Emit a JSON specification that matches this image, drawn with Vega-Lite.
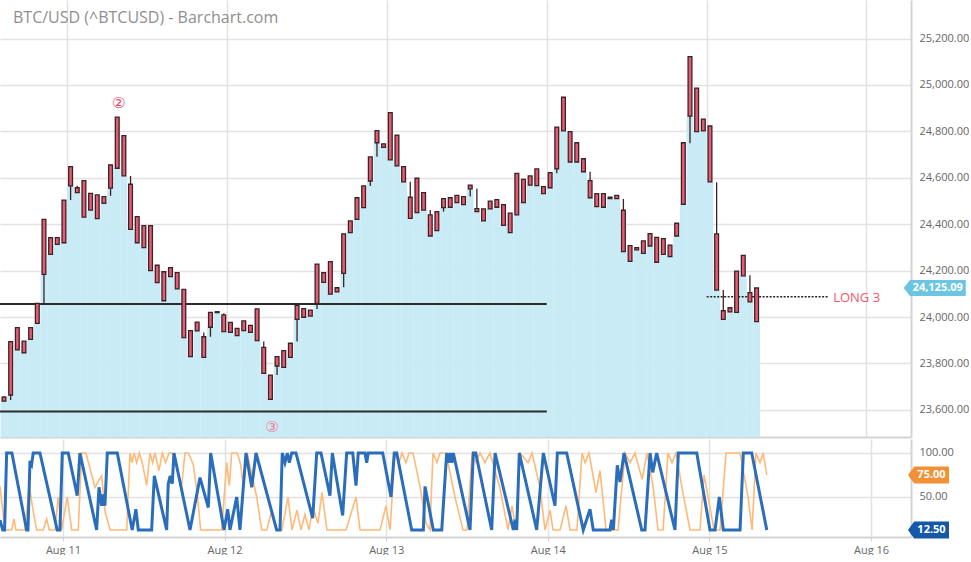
{
  "$schema": "https://vega.github.io/schema/vega-lite/v6.json",
  "padding": 0,
  "autosize": {"type": "pad"},
  "background": "white",
  "spacing": 2,
  "config": {
    "view": {"stroke": null},
    "font": "Open Sans",
    "axis": {"labelFont": "Open Sans", "labelColor": "#666666", "labelFontSize": 11, "gridColor": "#e2e2e2", "gridWidth": 1.5, "domainColor": "#d4d4d4", "domainWidth": 2, "tickColor": "#d4d4d4", "title": null}
  },
  "resolve": {"scale": {"x": "independent", "y": "independent"}},
  "datasets": {
    "candles": [
      {"t": "2022-08-10 14:30", "top": 23655, "bot": 23638, "hi": 23660, "lo": 23636},
      {"t": "2022-08-10 15:30", "top": 23894, "bot": 23664, "hi": 23894, "lo": 23642},
      {"t": "2022-08-10 16:30", "top": 23954, "bot": 23858, "hi": 23954, "lo": 23858},
      {"t": "2022-08-10 17:30", "top": 23896, "bot": 23846, "hi": 23896, "lo": 23846},
      {"t": "2022-08-10 18:30", "top": 23954, "bot": 23904, "hi": 23954, "lo": 23904},
      {"t": "2022-08-10 19:30", "top": 24059, "bot": 23973, "hi": 24059, "lo": 23973},
      {"t": "2022-08-10 20:30", "top": 24421, "bot": 24184, "hi": 24421, "lo": 24059},
      {"t": "2022-08-10 21:30", "top": 24342, "bot": 24270, "hi": 24342, "lo": 24270},
      {"t": "2022-08-10 22:30", "top": 24342, "bot": 24313, "hi": 24342, "lo": 24313},
      {"t": "2022-08-10 23:30", "top": 24504, "bot": 24320, "hi": 24504, "lo": 24320},
      {"t": "2022-08-11 00:30", "top": 24648, "bot": 24565, "hi": 24648, "lo": 24504},
      {"t": "2022-08-11 01:30", "top": 24557, "bot": 24536, "hi": 24566, "lo": 24536},
      {"t": "2022-08-11 02:30", "top": 24588, "bot": 24430, "hi": 24588, "lo": 24430},
      {"t": "2022-08-11 03:30", "top": 24533, "bot": 24461, "hi": 24533, "lo": 24461},
      {"t": "2022-08-11 04:30", "top": 24526, "bot": 24424, "hi": 24526, "lo": 24424},
      {"t": "2022-08-11 05:30", "top": 24519, "bot": 24490, "hi": 24519, "lo": 24490},
      {"t": "2022-08-11 06:30", "top": 24655, "bot": 24555, "hi": 24655, "lo": 24522},
      {"t": "2022-08-11 07:30", "top": 24861, "bot": 24641, "hi": 24861, "lo": 24641},
      {"t": "2022-08-11 08:30", "top": 24782, "bot": 24608, "hi": 24782, "lo": 24608},
      {"t": "2022-08-11 09:30", "top": 24572, "bot": 24378, "hi": 24608, "lo": 24378},
      {"t": "2022-08-11 10:30", "top": 24433, "bot": 24320, "hi": 24433, "lo": 24320},
      {"t": "2022-08-11 11:30", "top": 24394, "bot": 24299, "hi": 24394, "lo": 24299},
      {"t": "2022-08-11 12:30", "top": 24394, "bot": 24200, "hi": 24394, "lo": 24200},
      {"t": "2022-08-11 13:30", "top": 24223, "bot": 24148, "hi": 24223, "lo": 24148},
      {"t": "2022-08-11 14:30", "top": 24195, "bot": 24070, "hi": 24195, "lo": 24070},
      {"t": "2022-08-11 15:30", "top": 24213, "bot": 24174, "hi": 24213, "lo": 24174},
      {"t": "2022-08-11 16:30", "top": 24191, "bot": 24121, "hi": 24191, "lo": 24121},
      {"t": "2022-08-11 17:30", "top": 24119, "bot": 23911, "hi": 24119, "lo": 23911},
      {"t": "2022-08-11 18:30", "top": 23941, "bot": 23829, "hi": 23941, "lo": 23829},
      {"t": "2022-08-11 19:30", "top": 23978, "bot": 23940, "hi": 23978, "lo": 23940},
      {"t": "2022-08-11 20:30", "top": 23915, "bot": 23826, "hi": 23933, "lo": 23826},
      {"t": "2022-08-11 21:30", "top": 24020, "bot": 23956, "hi": 24020, "lo": 23915},
      {"t": "2022-08-11 22:30", "top": 24023, "bot": 24019, "hi": 24023, "lo": 24019},
      {"t": "2022-08-11 23:30", "top": 24009, "bot": 23937, "hi": 24016, "lo": 23937},
      {"t": "2022-08-12 00:30", "top": 23977, "bot": 23934, "hi": 23977, "lo": 23934},
      {"t": "2022-08-12 01:30", "top": 23951, "bot": 23920, "hi": 23951, "lo": 23920},
      {"t": "2022-08-12 02:30", "top": 23983, "bot": 23941, "hi": 23983, "lo": 23941},
      {"t": "2022-08-12 03:30", "top": 23964, "bot": 23934, "hi": 23964, "lo": 23934},
      {"t": "2022-08-12 04:30", "top": 24035, "bot": 23898, "hi": 24035, "lo": 23898},
      {"t": "2022-08-12 05:30", "top": 23869, "bot": 23757, "hi": 23894, "lo": 23757},
      {"t": "2022-08-12 06:30", "top": 23750, "bot": 23645, "hi": 23750, "lo": 23645},
      {"t": "2022-08-12 07:30", "top": 23829, "bot": 23789, "hi": 23829, "lo": 23750},
      {"t": "2022-08-12 08:30", "top": 23855, "bot": 23783, "hi": 23855, "lo": 23783},
      {"t": "2022-08-12 09:30", "top": 23887, "bot": 23826, "hi": 23887, "lo": 23826},
      {"t": "2022-08-12 10:30", "top": 24050, "bot": 23990, "hi": 24050, "lo": 23894},
      {"t": "2022-08-12 11:30", "top": 24036, "bot": 23999, "hi": 24036, "lo": 23999},
      {"t": "2022-08-12 12:30", "top": 24030, "bot": 24004, "hi": 24030, "lo": 24004},
      {"t": "2022-08-12 13:30", "top": 24228, "bot": 24059, "hi": 24228, "lo": 24035},
      {"t": "2022-08-12 14:30", "top": 24191, "bot": 24149, "hi": 24191, "lo": 24149},
      {"t": "2022-08-12 15:30", "top": 24239, "bot": 24099, "hi": 24239, "lo": 24099},
      {"t": "2022-08-12 16:30", "top": 24126, "bot": 24108, "hi": 24126, "lo": 24108},
      {"t": "2022-08-12 17:30", "top": 24358, "bot": 24188, "hi": 24358, "lo": 24128},
      {"t": "2022-08-12 18:30", "top": 24414, "bot": 24364, "hi": 24414, "lo": 24364},
      {"t": "2022-08-12 19:30", "top": 24514, "bot": 24421, "hi": 24514, "lo": 24421},
      {"t": "2022-08-12 20:30", "top": 24565, "bot": 24471, "hi": 24565, "lo": 24471},
      {"t": "2022-08-12 21:30", "top": 24690, "bot": 24586, "hi": 24690, "lo": 24565},
      {"t": "2022-08-12 22:30", "top": 24803, "bot": 24751, "hi": 24803, "lo": 24691},
      {"t": "2022-08-12 23:30", "top": 24746, "bot": 24731, "hi": 24746, "lo": 24731},
      {"t": "2022-08-13 00:30", "top": 24881, "bot": 24677, "hi": 24881, "lo": 24677},
      {"t": "2022-08-13 01:30", "top": 24784, "bot": 24651, "hi": 24784, "lo": 24651},
      {"t": "2022-08-13 02:30", "top": 24648, "bot": 24582, "hi": 24648, "lo": 24582},
      {"t": "2022-08-13 03:30", "top": 24516, "bot": 24425, "hi": 24583, "lo": 24425},
      {"t": "2022-08-13 04:30", "top": 24598, "bot": 24450, "hi": 24598, "lo": 24450},
      {"t": "2022-08-13 05:30", "top": 24536, "bot": 24461, "hi": 24536, "lo": 24461},
      {"t": "2022-08-13 06:30", "top": 24440, "bot": 24349, "hi": 24461, "lo": 24349},
      {"t": "2022-08-13 07:30", "top": 24454, "bot": 24372, "hi": 24454, "lo": 24372},
      {"t": "2022-08-13 08:30", "top": 24510, "bot": 24471, "hi": 24510, "lo": 24454},
      {"t": "2022-08-13 09:30", "top": 24514, "bot": 24473, "hi": 24514, "lo": 24473},
      {"t": "2022-08-13 10:30", "top": 24524, "bot": 24493, "hi": 24524, "lo": 24493},
      {"t": "2022-08-13 11:30", "top": 24519, "bot": 24484, "hi": 24519, "lo": 24484},
      {"t": "2022-08-13 12:30", "top": 24568, "bot": 24552, "hi": 24568, "lo": 24519},
      {"t": "2022-08-13 13:30", "top": 24467, "bot": 24454, "hi": 24553, "lo": 24454},
      {"t": "2022-08-13 14:30", "top": 24466, "bot": 24414, "hi": 24466, "lo": 24414},
      {"t": "2022-08-13 15:30", "top": 24499, "bot": 24466, "hi": 24499, "lo": 24466},
      {"t": "2022-08-13 16:30", "top": 24506, "bot": 24473, "hi": 24506, "lo": 24473},
      {"t": "2022-08-13 17:30", "top": 24484, "bot": 24395, "hi": 24484, "lo": 24395},
      {"t": "2022-08-13 18:30", "top": 24448, "bot": 24364, "hi": 24448, "lo": 24364},
      {"t": "2022-08-13 19:30", "top": 24619, "bot": 24440, "hi": 24619, "lo": 24440},
      {"t": "2022-08-13 20:30", "top": 24593, "bot": 24493, "hi": 24593, "lo": 24493},
      {"t": "2022-08-13 21:30", "top": 24608, "bot": 24568, "hi": 24608, "lo": 24568},
      {"t": "2022-08-13 22:30", "top": 24638, "bot": 24566, "hi": 24638, "lo": 24566},
      {"t": "2022-08-13 23:30", "top": 24562, "bot": 24532, "hi": 24562, "lo": 24532},
      {"t": "2022-08-14 00:30", "top": 24622, "bot": 24557, "hi": 24622, "lo": 24557},
      {"t": "2022-08-14 01:30", "top": 24818, "bot": 24638, "hi": 24818, "lo": 24619},
      {"t": "2022-08-14 02:30", "top": 24947, "bot": 24802, "hi": 24947, "lo": 24802},
      {"t": "2022-08-14 03:30", "top": 24799, "bot": 24668, "hi": 24799, "lo": 24668},
      {"t": "2022-08-14 04:30", "top": 24751, "bot": 24668, "hi": 24751, "lo": 24668},
      {"t": "2022-08-14 05:30", "top": 24682, "bot": 24626, "hi": 24682, "lo": 24626},
      {"t": "2022-08-14 06:30", "top": 24588, "bot": 24514, "hi": 24626, "lo": 24514},
      {"t": "2022-08-14 07:30", "top": 24532, "bot": 24476, "hi": 24532, "lo": 24476},
      {"t": "2022-08-14 08:30", "top": 24532, "bot": 24473, "hi": 24532, "lo": 24473},
      {"t": "2022-08-14 09:30", "top": 24516, "bot": 24510, "hi": 24516, "lo": 24510},
      {"t": "2022-08-14 10:30", "top": 24524, "bot": 24510, "hi": 24524, "lo": 24510},
      {"t": "2022-08-14 11:30", "top": 24460, "bot": 24282, "hi": 24509, "lo": 24282},
      {"t": "2022-08-14 12:30", "top": 24308, "bot": 24240, "hi": 24308, "lo": 24240},
      {"t": "2022-08-14 13:30", "top": 24299, "bot": 24289, "hi": 24299, "lo": 24289},
      {"t": "2022-08-14 14:30", "top": 24328, "bot": 24274, "hi": 24328, "lo": 24274},
      {"t": "2022-08-14 15:30", "top": 24359, "bot": 24306, "hi": 24359, "lo": 24306},
      {"t": "2022-08-14 16:30", "top": 24343, "bot": 24236, "hi": 24343, "lo": 24236},
      {"t": "2022-08-14 17:30", "top": 24338, "bot": 24270, "hi": 24338, "lo": 24270},
      {"t": "2022-08-14 18:30", "top": 24310, "bot": 24260, "hi": 24310, "lo": 24260},
      {"t": "2022-08-14 19:30", "top": 24404, "bot": 24349, "hi": 24404, "lo": 24349},
      {"t": "2022-08-14 20:30", "top": 24751, "bot": 24486, "hi": 24751, "lo": 24486},
      {"t": "2022-08-14 21:30", "top": 25122, "bot": 24866, "hi": 25122, "lo": 24749},
      {"t": "2022-08-14 22:30", "top": 24986, "bot": 24799, "hi": 24986, "lo": 24799},
      {"t": "2022-08-14 23:30", "top": 24853, "bot": 24802, "hi": 24853, "lo": 24802},
      {"t": "2022-08-15 00:30", "top": 24823, "bot": 24582, "hi": 24823, "lo": 24582},
      {"t": "2022-08-15 01:30", "top": 24358, "bot": 24116, "hi": 24580, "lo": 24116},
      {"t": "2022-08-15 02:30", "top": 24027, "bot": 23990, "hi": 24116, "lo": 23990},
      {"t": "2022-08-15 03:30", "top": 24040, "bot": 24022, "hi": 24040, "lo": 24022},
      {"t": "2022-08-15 04:30", "top": 24198, "bot": 24020, "hi": 24198, "lo": 24020},
      {"t": "2022-08-15 05:30", "top": 24266, "bot": 24177, "hi": 24266, "lo": 24177},
      {"t": "2022-08-15 06:30", "top": 24105, "bot": 24065, "hi": 24180, "lo": 24065},
      {"t": "2022-08-15 07:30", "top": 24125.09, "bot": 23980, "hi": 24125.09, "lo": 23980}
    ],
    "levels": [
      {"from": "2022-08-10 12:00", "to": "2022-08-14 00:00", "price": 24056},
      {"from": "2022-08-10 12:00", "to": "2022-08-14 00:00", "price": 23593}
    ],
    "signal": [
      {"from": "2022-08-15 00:00", "to": "2022-08-15 18:15", "price": 24087, "label": "LONG 3"}
    ],
    "marks": [
      {"t": "2022-08-11 07:43", "price": 24921, "label": "②", "kind": "peak"},
      {"t": "2022-08-12 06:45", "price": 23525, "label": "③", "kind": "trough"}
    ],
    "last": [{"price": 24125.09, "label": "24,125.09"}],
    "oscLast": [{"v": 75, "label": "75.00", "series": "orange"}, {"v": 12.5, "label": "12.50", "series": "blue"}],
    "blue": [
      {"t": "2022-08-10 14:39", "v": 23.8}, {"t": "2022-08-10 15:03", "v": 12.5}, {"t": "2022-08-10 15:20", "v": 12.5},
      {"t": "2022-08-10 15:38", "v": 100}, {"t": "2022-08-10 16:25", "v": 100}, {"t": "2022-08-10 18:36", "v": 12.5},
      {"t": "2022-08-10 18:48", "v": 12.5}, {"t": "2022-08-10 19:06", "v": 91}, {"t": "2022-08-10 19:21", "v": 87},
      {"t": "2022-08-10 19:35", "v": 100}, {"t": "2022-08-10 20:35", "v": 100}, {"t": "2022-08-10 23:09", "v": 12.5},
      {"t": "2022-08-10 23:33", "v": 12.5}, {"t": "2022-08-10 23:54", "v": 100}, {"t": "2022-08-11 00:47", "v": 100},
      {"t": "2022-08-11 02:07", "v": 51.5}, {"t": "2022-08-11 02:31", "v": 100}, {"t": "2022-08-11 05:00", "v": 12.5},
      {"t": "2022-08-11 05:21", "v": 61}, {"t": "2022-08-11 05:45", "v": 40}, {"t": "2022-08-11 05:59", "v": 53},
      {"t": "2022-08-11 06:14", "v": 40}, {"t": "2022-08-11 06:35", "v": 100}, {"t": "2022-08-11 08:04", "v": 100},
      {"t": "2022-08-11 10:17", "v": 12.5}, {"t": "2022-08-11 10:50", "v": 36}, {"t": "2022-08-11 11:11", "v": 12.5},
      {"t": "2022-08-11 13:10", "v": 12.5}, {"t": "2022-08-11 13:34", "v": 74}, {"t": "2022-08-11 15:24", "v": 12.5},
      {"t": "2022-08-11 15:38", "v": 65}, {"t": "2022-08-11 15:56", "v": 74}, {"t": "2022-08-11 16:14", "v": 65},
      {"t": "2022-08-11 16:29", "v": 100}, {"t": "2022-08-11 18:52", "v": 12.5}, {"t": "2022-08-11 20:21", "v": 72},
      {"t": "2022-08-11 21:35", "v": 38}, {"t": "2022-08-11 21:56", "v": 100}, {"t": "2022-08-11 23:55", "v": 12.5},
      {"t": "2022-08-12 00:28", "v": 36}, {"t": "2022-08-12 00:48", "v": 12.5}, {"t": "2022-08-12 01:48", "v": 50},
      {"t": "2022-08-12 02:17", "v": 12.5}, {"t": "2022-08-12 03:11", "v": 100}, {"t": "2022-08-12 04:02", "v": 61},
      {"t": "2022-08-12 04:40", "v": 100}, {"t": "2022-08-12 07:44", "v": 12.5}, {"t": "2022-08-12 08:14", "v": 12.5},
      {"t": "2022-08-12 08:34", "v": 100}, {"t": "2022-08-12 08:58", "v": 89}, {"t": "2022-08-12 09:19", "v": 100},
      {"t": "2022-08-12 09:37", "v": 89}, {"t": "2022-08-12 09:58", "v": 100}, {"t": "2022-08-12 10:36", "v": 100},
      {"t": "2022-08-12 13:05", "v": 26}, {"t": "2022-08-12 13:41", "v": 100}, {"t": "2022-08-12 14:19", "v": 100},
      {"t": "2022-08-12 15:39", "v": 51.5}, {"t": "2022-08-12 16:00", "v": 100}, {"t": "2022-08-12 17:32", "v": 29},
      {"t": "2022-08-12 18:08", "v": 100}, {"t": "2022-08-12 19:02", "v": 100}, {"t": "2022-08-12 19:31", "v": 63},
      {"t": "2022-08-12 19:51", "v": 100}, {"t": "2022-08-12 20:51", "v": 100}, {"t": "2022-08-12 21:06", "v": 89},
      {"t": "2022-08-12 21:20", "v": 100}, {"t": "2022-08-12 23:29", "v": 100}, {"t": "2022-08-13 00:43", "v": 50},
      {"t": "2022-08-13 01:12", "v": 100}, {"t": "2022-08-13 01:34", "v": 100}, {"t": "2022-08-13 03:47", "v": 12.5},
      {"t": "2022-08-13 05:31", "v": 12.5}, {"t": "2022-08-13 05:46", "v": 62}, {"t": "2022-08-13 07:00", "v": 12.5},
      {"t": "2022-08-13 08:15", "v": 12.5}, {"t": "2022-08-13 08:59", "v": 100}, {"t": "2022-08-13 09:13", "v": 89},
      {"t": "2022-08-13 09:29", "v": 100}, {"t": "2022-08-13 09:44", "v": 89}, {"t": "2022-08-13 09:58", "v": 100},
      {"t": "2022-08-13 12:27", "v": 12.5}, {"t": "2022-08-13 12:56", "v": 100}, {"t": "2022-08-13 13:18", "v": 100},
      {"t": "2022-08-13 15:40", "v": 12.5}, {"t": "2022-08-13 16:10", "v": 100}, {"t": "2022-08-13 18:53", "v": 12.5},
      {"t": "2022-08-13 19:08", "v": 24}, {"t": "2022-08-13 19:23", "v": 12.5}, {"t": "2022-08-13 19:46", "v": 100},
      {"t": "2022-08-13 22:21", "v": 12.5}, {"t": "2022-08-13 23:20", "v": 100}, {"t": "2022-08-14 01:04", "v": 40},
      {"t": "2022-08-14 01:25", "v": 100}, {"t": "2022-08-14 02:48", "v": 100}, {"t": "2022-08-14 05:16", "v": 12.5},
      {"t": "2022-08-14 06:16", "v": 36}, {"t": "2022-08-14 06:45", "v": 12.5}, {"t": "2022-08-14 09:14", "v": 12.5},
      {"t": "2022-08-14 09:29", "v": 24}, {"t": "2022-08-14 09:44", "v": 12.5}, {"t": "2022-08-14 10:19", "v": 86},
      {"t": "2022-08-14 10:43", "v": 67}, {"t": "2022-08-14 11:19", "v": 100}, {"t": "2022-08-14 13:57", "v": 12.5},
      {"t": "2022-08-14 14:26", "v": 12.5}, {"t": "2022-08-14 15:11", "v": 100}, {"t": "2022-08-14 15:35", "v": 78},
      {"t": "2022-08-14 16:10", "v": 100}, {"t": "2022-08-14 18:53", "v": 12.5}, {"t": "2022-08-14 19:23", "v": 100},
      {"t": "2022-08-14 22:07", "v": 100}, {"t": "2022-08-15 00:05", "v": 12.5}, {"t": "2022-08-15 00:50", "v": 12.5},
      {"t": "2022-08-15 01:28", "v": 50}, {"t": "2022-08-15 02:04", "v": 12.5}, {"t": "2022-08-15 04:33", "v": 12.5},
      {"t": "2022-08-15 05:02", "v": 100}, {"t": "2022-08-15 06:17", "v": 100}, {"t": "2022-08-15 08:31", "v": 12.5}
    ],
    "orange": [
      {"t": "2022-08-10 14:39", "v": 62}, {"t": "2022-08-10 15:23", "v": 12.5}, {"t": "2022-08-10 16:23", "v": 12.5},
      {"t": "2022-08-10 16:43", "v": 25}, {"t": "2022-08-10 17:01", "v": 12.5}, {"t": "2022-08-10 18:21", "v": 12.5},
      {"t": "2022-08-10 19:00", "v": 62}, {"t": "2022-08-10 19:35", "v": 34}, {"t": "2022-08-10 20:06", "v": 12.5},
      {"t": "2022-08-10 21:04", "v": 12.5}, {"t": "2022-08-10 21:35", "v": 25}, {"t": "2022-08-10 21:58", "v": 12.5},
      {"t": "2022-08-10 22:49", "v": 12.5}, {"t": "2022-08-10 23:18", "v": 50}, {"t": "2022-08-10 23:48", "v": 12.5},
      {"t": "2022-08-11 00:38", "v": 50}, {"t": "2022-08-11 01:18", "v": 12.5}, {"t": "2022-08-11 02:16", "v": 12.5},
      {"t": "2022-08-11 02:47", "v": 100}, {"t": "2022-08-11 03:25", "v": 100}, {"t": "2022-08-11 04:45", "v": 61},
      {"t": "2022-08-11 05:15", "v": 68}, {"t": "2022-08-11 05:45", "v": 74}, {"t": "2022-08-11 06:14", "v": 34},
      {"t": "2022-08-11 06:59", "v": 12.5}, {"t": "2022-08-11 09:28", "v": 12.5}, {"t": "2022-08-11 09:57", "v": 100},
      {"t": "2022-08-11 10:15", "v": 89}, {"t": "2022-08-11 10:33", "v": 100}, {"t": "2022-08-11 10:57", "v": 89},
      {"t": "2022-08-11 11:20", "v": 100}, {"t": "2022-08-11 11:50", "v": 87}, {"t": "2022-08-11 12:26", "v": 63},
      {"t": "2022-08-11 12:55", "v": 100}, {"t": "2022-08-11 13:19", "v": 89}, {"t": "2022-08-11 13:40", "v": 100},
      {"t": "2022-08-11 14:15", "v": 80}, {"t": "2022-08-11 14:45", "v": 100}, {"t": "2022-08-11 15:15", "v": 89},
      {"t": "2022-08-11 15:45", "v": 100}, {"t": "2022-08-11 16:14", "v": 100}, {"t": "2022-08-11 16:58", "v": 80},
      {"t": "2022-08-11 17:38", "v": 63}, {"t": "2022-08-11 18:07", "v": 100}, {"t": "2022-08-11 18:37", "v": 100},
      {"t": "2022-08-11 19:21", "v": 87}, {"t": "2022-08-11 19:57", "v": 53}, {"t": "2022-08-11 20:27", "v": 12.5},
      {"t": "2022-08-11 23:34", "v": 12.5}, {"t": "2022-08-12 00:19", "v": 89}, {"t": "2022-08-12 00:42", "v": 63},
      {"t": "2022-08-12 01:03", "v": 100}, {"t": "2022-08-12 01:53", "v": 100}, {"t": "2022-08-12 02:23", "v": 87},
      {"t": "2022-08-12 02:47", "v": 62}, {"t": "2022-08-12 03:22", "v": 100}, {"t": "2022-08-12 04:46", "v": 50},
      {"t": "2022-08-12 05:31", "v": 12.5}, {"t": "2022-08-12 06:15", "v": 12.5}, {"t": "2022-08-12 07:00", "v": 34},
      {"t": "2022-08-12 07:38", "v": 12.5}, {"t": "2022-08-12 08:31", "v": 12.5}, {"t": "2022-08-12 09:25", "v": 50},
      {"t": "2022-08-12 10:01", "v": 12.5}, {"t": "2022-08-12 10:45", "v": 35}, {"t": "2022-08-12 11:21", "v": 12.5},
      {"t": "2022-08-12 11:56", "v": 30}, {"t": "2022-08-12 12:32", "v": 12.5}, {"t": "2022-08-12 13:08", "v": 38},
      {"t": "2022-08-12 13:52", "v": 20}, {"t": "2022-08-12 14:28", "v": 55}, {"t": "2022-08-12 15:12", "v": 12.5},
      {"t": "2022-08-12 18:02", "v": 12.5}, {"t": "2022-08-12 19:31", "v": 50}, {"t": "2022-08-12 20:07", "v": 12.5},
      {"t": "2022-08-12 23:05", "v": 12.5}, {"t": "2022-08-12 23:58", "v": 40}, {"t": "2022-08-13 00:34", "v": 12.5},
      {"t": "2022-08-13 01:18", "v": 100}, {"t": "2022-08-13 01:54", "v": 89}, {"t": "2022-08-13 02:21", "v": 100},
      {"t": "2022-08-13 02:56", "v": 89}, {"t": "2022-08-13 03:23", "v": 100}, {"t": "2022-08-13 03:59", "v": 100},
      {"t": "2022-08-13 05:01", "v": 62}, {"t": "2022-08-13 05:55", "v": 20}, {"t": "2022-08-13 06:30", "v": 12.5},
      {"t": "2022-08-13 06:57", "v": 100}, {"t": "2022-08-13 07:33", "v": 89}, {"t": "2022-08-13 07:59", "v": 100},
      {"t": "2022-08-13 08:53", "v": 100}, {"t": "2022-08-13 10:13", "v": 50}, {"t": "2022-08-13 11:24", "v": 12.5},
      {"t": "2022-08-13 12:00", "v": 12.5}, {"t": "2022-08-13 12:45", "v": 100}, {"t": "2022-08-13 13:20", "v": 89},
      {"t": "2022-08-13 13:56", "v": 100}, {"t": "2022-08-13 14:40", "v": 89}, {"t": "2022-08-13 15:25", "v": 100},
      {"t": "2022-08-13 16:54", "v": 60}, {"t": "2022-08-13 18:05", "v": 12.5}, {"t": "2022-08-13 18:41", "v": 40},
      {"t": "2022-08-13 19:17", "v": 12.5}, {"t": "2022-08-13 19:52", "v": 100}, {"t": "2022-08-13 21:04", "v": 89},
      {"t": "2022-08-13 21:39", "v": 100}, {"t": "2022-08-13 22:51", "v": 60}, {"t": "2022-08-13 23:35", "v": 12.5},
      {"t": "2022-08-14 00:20", "v": 35}, {"t": "2022-08-14 00:46", "v": 12.5}, {"t": "2022-08-14 01:49", "v": 12.5},
      {"t": "2022-08-14 02:42", "v": 40}, {"t": "2022-08-14 03:18", "v": 12.5}, {"t": "2022-08-14 04:20", "v": 12.5},
      {"t": "2022-08-14 05:05", "v": 100}, {"t": "2022-08-14 05:32", "v": 89}, {"t": "2022-08-14 06:07", "v": 100},
      {"t": "2022-08-14 07:10", "v": 55}, {"t": "2022-08-14 07:45", "v": 80}, {"t": "2022-08-14 08:39", "v": 12.5},
      {"t": "2022-08-14 10:26", "v": 12.5}, {"t": "2022-08-14 11:28", "v": 100}, {"t": "2022-08-14 12:13", "v": 89},
      {"t": "2022-08-14 12:57", "v": 100}, {"t": "2022-08-14 14:00", "v": 70}, {"t": "2022-08-14 14:44", "v": 100},
      {"t": "2022-08-14 15:38", "v": 62}, {"t": "2022-08-14 16:22", "v": 12.5}, {"t": "2022-08-14 17:07", "v": 12.5},
      {"t": "2022-08-14 17:51", "v": 100}, {"t": "2022-08-14 18:27", "v": 89}, {"t": "2022-08-14 19:03", "v": 100},
      {"t": "2022-08-14 19:56", "v": 60}, {"t": "2022-08-14 21:07", "v": 12.5}, {"t": "2022-08-14 22:36", "v": 12.5},
      {"t": "2022-08-14 23:12", "v": 75}, {"t": "2022-08-14 23:48", "v": 50}, {"t": "2022-08-15 00:41", "v": 12.5},
      {"t": "2022-08-15 01:35", "v": 12.5}, {"t": "2022-08-15 02:28", "v": 100}, {"t": "2022-08-15 04:33", "v": 100},
      {"t": "2022-08-15 05:44", "v": 50}, {"t": "2022-08-15 06:20", "v": 12.5}, {"t": "2022-08-15 06:55", "v": 100},
      {"t": "2022-08-15 07:31", "v": 89}, {"t": "2022-08-15 07:58", "v": 100}, {"t": "2022-08-15 08:31", "v": 75}
    ]
  },
  "vconcat": [
    {
      "width": 911,
      "height": 437,
      "title": {"text": "BTC/USD (^BTCUSD) - Barchart.com", "anchor": "start", "frame": "group", "orient": "top", "offset": -26, "dx": 13, "font": "Open Sans", "fontSize": 16, "fontWeight": "normal", "color": "#8f8f8f"},
      "layer": [
        {
          "data": {"name": "candles"},
          "mark": {"type": "bar", "width": 6.9, "color": "#c8ebf6", "clip": true},
          "encoding": {
            "x": {"field": "t", "type": "temporal",
                  "scale": {"domain": [{"year": 2022, "month": 8, "date": 10, "hours": 14, "minutes": 39}, {"year": 2022, "month": 8, "date": 16, "hours": 5, "minutes": 56}], "nice": false},
                  "axis": {"labels": false, "ticks": false, "grid": true, "domain": true, "tickCount": {"interval": "day", "step": 1}}},
            "y": {"field": "bot", "type": "quantitative",
                  "scale": {"domain": [23483, 25366], "nice": false, "zero": false},
                  "axis": {"orient": "right", "values": [23600, 23800, 24000, 24200, 24400, 24600, 24800, 25000, 25200], "format": ",.2f", "ticks": false, "labelPadding": 8, "grid": true}},
            "y2": {"datum": 23483}
          }
        },
        {
          "data": {"name": "levels"},
          "mark": {"type": "rule", "color": "#2b2b2b", "strokeWidth": 2, "clip": true},
          "encoding": {
            "x": {"field": "from", "type": "temporal"},
            "x2": {"field": "to"},
            "y": {"field": "price", "type": "quantitative"}
          }
        },
        {
          "data": {"name": "signal"},
          "mark": {"type": "rule", "color": "#222222", "strokeWidth": 1.5, "strokeDash": [2, 1.5]},
          "encoding": {
            "x": {"field": "from", "type": "temporal"},
            "x2": {"field": "to"},
            "y": {"field": "price", "type": "quantitative"}
          }
        },
        {
          "data": {"name": "signal"},
          "mark": {"type": "text", "align": "left", "baseline": "middle", "dx": 5, "dy": 1, "font": "Open Sans", "fontSize": 13, "color": "#f5566c"},
          "encoding": {
            "x": {"field": "to", "type": "temporal"},
            "y": {"field": "price", "type": "quantitative"},
            "text": {"field": "label"}
          }
        },
        {
          "data": {"name": "candles"},
          "mark": {"type": "rule", "color": "#3a2326", "strokeWidth": 1.3, "clip": true},
          "encoding": {
            "x": {"field": "t", "type": "temporal"},
            "y": {"field": "lo", "type": "quantitative"},
            "y2": {"field": "hi"}
          }
        },
        {
          "data": {"name": "candles"},
          "mark": {"type": "bar", "width": 3.8, "color": "#e35d74", "stroke": "#3b2226", "strokeWidth": 1.3, "clip": true},
          "encoding": {
            "x": {"field": "t", "type": "temporal"},
            "y": {"field": "top", "type": "quantitative"},
            "y2": {"field": "bot"}
          }
        },
        {
          "data": {"name": "marks"},
          "transform": [{"filter": "datum.kind === 'peak'"}],
          "mark": {"type": "text", "font": "DejaVu Sans", "fontSize": 15, "baseline": "middle", "align": "center", "color": "#ef3f62"},
          "encoding": {
            "x": {"field": "t", "type": "temporal"},
            "y": {"field": "price", "type": "quantitative"},
            "text": {"field": "label"}
          }
        },
        {
          "data": {"name": "marks"},
          "transform": [{"filter": "datum.kind === 'trough'"}],
          "mark": {"type": "text", "font": "DejaVu Sans", "fontSize": 15, "baseline": "middle", "align": "center", "color": "#f27d97"},
          "encoding": {
            "x": {"field": "t", "type": "temporal"},
            "y": {"field": "price", "type": "quantitative"},
            "text": {"field": "label"}
          }
        },
        {
          "data": {"name": "last"},
          "mark": {"type": "point", "shape": "M -1 0 L -0.8 -0.258 L 1 -0.258 L 1 0.258 L -0.8 0.258 Z", "size": 3844, "filled": true, "color": "#6cc6e2", "opacity": 1, "clip": false},
          "encoding": {
            "x": {"datum": {"year": 2022, "month": 8, "date": 16, "hours": 10, "minutes": 15}, "type": "temporal"},
            "y": {"field": "price", "type": "quantitative"}
          }
        },
        {
          "data": {"name": "last"},
          "mark": {"type": "text", "align": "center", "baseline": "middle", "dx": 3, "font": "Open Sans", "fontSize": 11, "fontWeight": "bold", "color": "white", "clip": false},
          "encoding": {
            "x": {"datum": {"year": 2022, "month": 8, "date": 16, "hours": 10, "minutes": 15}, "type": "temporal"},
            "y": {"field": "price", "type": "quantitative"},
            "text": {"field": "label"}
          }
        }
      ]
    },
    {
      "width": 911,
      "height": 98,
      "layer": [
        {
          "data": {"name": "orange"},
          "mark": {"type": "line", "color": "#ffb978", "strokeWidth": 1.6, "clip": true},
          "encoding": {
            "x": {"field": "t", "type": "temporal",
                  "scale": {"domain": [{"year": 2022, "month": 8, "date": 10, "hours": 14, "minutes": 39}, {"year": 2022, "month": 8, "date": 16, "hours": 5, "minutes": 56}], "nice": false},
                  "axis": {"format": "%b %d", "tickCount": {"interval": "day", "step": 1}, "grid": true, "tickSize": 4, "labelPadding": 3, "labelFlush": false}},
            "y": {"field": "v", "type": "quantitative",
                  "scale": {"domain": [4.5, 115.9], "nice": false, "zero": false},
                  "axis": {"orient": "right", "values": [50, 100], "format": ".2f", "ticks": false, "labelPadding": 8, "grid": true}}
          }
        },
        {
          "data": {"name": "blue"},
          "mark": {"type": "line", "color": "#2a6ebb", "strokeWidth": 3, "clip": true},
          "encoding": {
            "x": {"field": "t", "type": "temporal"},
            "y": {"field": "v", "type": "quantitative"}
          }
        },
        {
          "data": {"name": "oscLast"},
          "transform": [{"filter": "datum.series === 'orange'"}],
          "mark": {"type": "point", "shape": "M -1 0 L -0.7 -0.415 L 1 -0.415 L 1 0.415 L -0.7 0.415 Z", "size": 1681, "filled": true, "opacity": 1, "color": "#f39136", "clip": false},
          "encoding": {
            "x": {"datum": {"year": 2022, "month": 8, "date": 16, "hours": 8, "minutes": 32}, "type": "temporal"},
            "y": {"field": "v", "type": "quantitative"}
          }
        },
        {
          "data": {"name": "oscLast"},
          "transform": [{"filter": "datum.series === 'blue'"}],
          "mark": {"type": "point", "shape": "M -1 0 L -0.7 -0.415 L 1 -0.415 L 1 0.415 L -0.7 0.415 Z", "size": 1681, "filled": true, "opacity": 1, "color": "#1557a8", "clip": false},
          "encoding": {
            "x": {"datum": {"year": 2022, "month": 8, "date": 16, "hours": 8, "minutes": 32}, "type": "temporal"},
            "y": {"field": "v", "type": "quantitative"}
          }
        },
        {
          "data": {"name": "oscLast"},
          "mark": {"type": "text", "align": "center", "baseline": "middle", "dx": 3, "font": "Open Sans", "fontSize": 11, "fontWeight": "bold", "color": "white", "clip": false},
          "encoding": {
            "x": {"datum": {"year": 2022, "month": 8, "date": 16, "hours": 8, "minutes": 32}, "type": "temporal"},
            "y": {"field": "v", "type": "quantitative"},
            "text": {"field": "label"}
          }
        }
      ]
    }
  ]
}
